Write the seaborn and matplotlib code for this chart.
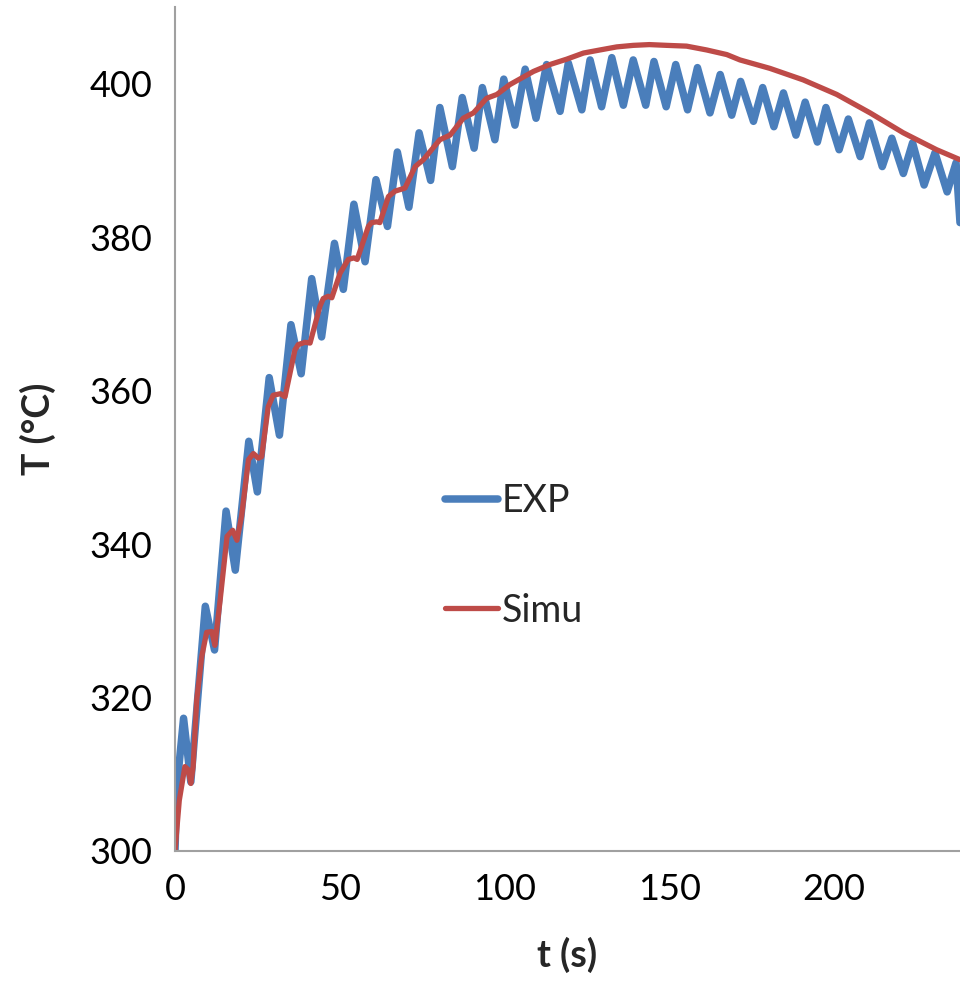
import numpy as np
import pandas as pd
import matplotlib
matplotlib.use("Agg")
import matplotlib.pyplot as plt
import seaborn as sns

# ---- data ----
exp_t = [0, 0.5, 2.6, 4.8, 9.2, 12.0, 15.5, 18.3, 22.4, 25.0, 28.6, 31.7, 35.2, 38.3,
         41.5, 44.5, 48.4, 51.1, 54.3, 57.7, 61.0, 64.5, 67.5, 71.0, 74.1, 77.6, 80.4,
         84.2, 87.2, 90.8, 93.3, 97.1, 99.8, 103.2, 106.3, 109.6, 112.8, 116.9, 119.4,
         123.5, 126.0, 129.5, 132.6, 136.1, 139.1, 142.9, 145.4, 149.1, 152.0, 155.6,
         158.6, 162.4, 165.5, 169.0, 171.7, 175.6, 178.4, 181.8, 184.7, 188.5, 191.3,
         195.0, 197.6, 201.6, 204.4, 208.0, 210.8, 214.7, 217.6, 221.1, 223.9, 227.4,
         230.7, 234.4, 237.1, 238.3]
exp_T = [300, 308, 317.3, 309.0, 331.9, 326.2, 344.3, 336.6, 353.4, 346.8, 361.7, 354.2,
         368.6, 362.2, 374.6, 367.0, 379.2, 373.2, 384.3, 376.8, 387.5, 381.4, 391.1, 383.9,
         393.6, 387.4, 396.9, 389.2, 398.2, 391.6, 399.5, 392.7, 400.6, 394.6, 401.9, 395.5,
         402.5, 396.4, 402.7, 396.6, 403.1, 397.0, 403.4, 397.2, 403.1, 397.2, 402.9, 397.0,
         402.5, 396.6, 402.1, 396.2, 401.2, 395.9, 400.3, 395.1, 399.5, 394.4, 398.8, 393.3,
         397.6, 392.4, 396.9, 391.4, 395.4, 390.5, 394.9, 389.2, 392.9, 388.3, 392.3, 386.8,
         391.0, 385.9, 389.7, 381.9]

sim_t = [0, 1.3, 3.0, 4.0, 4.8, 5.5, 6.6, 8.1, 9.6, 11.2, 12.1, 13.7, 15.8, 17.5, 18.8,
         20.2, 22.3, 23.8, 25.3, 26.3, 28.3, 29.8, 32.0, 33.4, 36.4, 37.4, 39.5, 41.0,
         44.0, 45.0, 46.5, 47.6, 50.1, 52.6, 54.3, 55.3, 58.7, 59.7, 61.2, 62.2, 64.8,
         66.8, 69.8, 72.9, 75.4, 80.4, 83.5, 87.5, 90.6, 94.6, 97.7, 101.7, 108.8, 113.8,
         118.9, 124.0, 129.0, 134.1, 139.1, 144.0, 149.3, 155.3, 161.4, 167.5, 171.5,
         180.6, 190.7, 200.9, 211.0, 221.1, 231.2, 238.3]
sim_T = [300, 306.6, 311.0, 310.6, 308.8, 311.0, 319.7, 325.3, 328.5, 328.6, 326.8, 332.7,
         341.0, 341.8, 340.5, 343.6, 351.0, 351.8, 351.2, 351.4, 357.9, 359.4, 359.6, 359.2,
         365.3, 366.0, 366.3, 366.2, 371.0, 372.0, 372.3, 372.1, 375.3, 377.1, 377.3, 377.1,
         381.4, 381.9, 382.0, 381.9, 385.3, 386.0, 386.4, 389.2, 390.1, 392.7, 393.3, 395.5,
         396.2, 398.1, 398.6, 399.9, 401.6, 402.5, 403.2, 404.0, 404.4, 404.8, 405.0, 405.1,
         405.0, 404.9, 404.4, 403.8, 403.1, 402.0, 400.5, 398.6, 396.2, 393.6, 391.4, 390.1]

x_ticks = [0, 50, 100, 150, 200]
y_ticks = [300, 320, 340, 360, 380, 400]

exp_df = pd.DataFrame({"t": exp_t, "T": exp_T, "series": "EXP"})
sim_df = pd.DataFrame({"t": sim_t, "T": sim_T, "series": "Simu"})

sns.set_style("white")
plt.rcParams["font.family"] = ["Lato", "DejaVu Sans"]

fig = plt.figure(figsize=(9.6, 9.82), dpi=100)
ax = fig.add_axes([175 / 960, 131 / 982, 785 / 960, 844 / 982])

sns.lineplot(data=exp_df, x="t", y="T", sort=False, estimator=None, ax=ax,
             color="#4a7ebb", linewidth=5.4, label="EXP")
sns.lineplot(data=sim_df, x="t", y="T", sort=False, estimator=None, ax=ax,
             color="#be4b48", linewidth=3.8, label="Simu")

ax.set_xlim(0, 238.3)
ax.set_ylim(300, 410)
ax.set_xticks(x_ticks)
ax.set_yticks(y_ticks)
ax.tick_params(axis="both", direction="out", length=11, width=1.2, color="#8c8c8c",
               labelsize=26, labelcolor="black", pad=5)

for side in ["top", "right"]:
    ax.spines[side].set_visible(False)
for side in ["left", "bottom"]:
    ax.spines[side].set_color("#a0a0a0")
    ax.spines[side].set_linewidth(1.5)

ax.set_xlabel("t (s)", fontsize=27, fontweight="bold")
ax.set_ylabel("T (°C)", fontsize=27, fontweight="bold")
ax.xaxis.label.set_va("center")
ax.yaxis.label.set_va("center")
ax.xaxis.set_label_coords(0.5, -0.123)
ax.yaxis.set_label_coords(-0.175, 0.5)

leg = ax.legend(loc="center left", bbox_to_anchor=(445 / 960, (982 - 556) / 982),
                bbox_transform=fig.transFigure, frameon=False, fontsize=27,
                handlelength=1.4, handletextpad=0.12, labelspacing=1.95,
                borderpad=0, borderaxespad=0)

fig.savefig("out.png", dpi=100)
